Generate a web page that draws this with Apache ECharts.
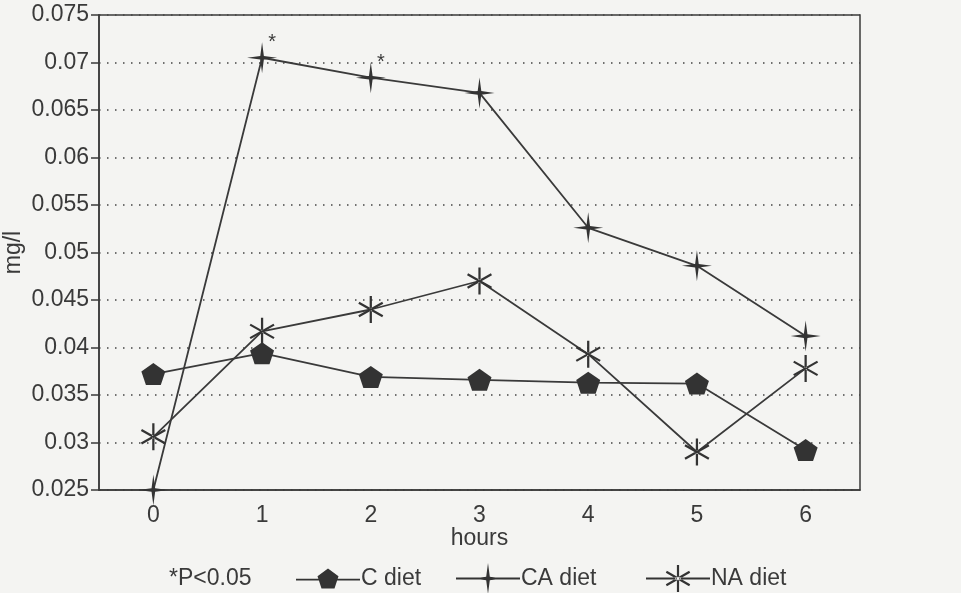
<!DOCTYPE html>
<html>
<head>
<meta charset="utf-8">
<script src="https://cdn.jsdelivr.net/npm/echarts@6/dist/echarts.min.js"></script>
<style>
html,body{margin:0;padding:0;background:#f4f4f2;}
#main{width:961px;height:593px;}
</style>
</head>
<body>
<div id="main"></div>
<script>
var hours = ['0','1','2','3','4','5','6'];
var cDiet = [0.0372, 0.0394, 0.0369, 0.0366, 0.0363, 0.0362, 0.0292];
var caDiet = [0.0250, 0.0705, 0.0684, 0.0668, 0.0526, 0.0486, 0.0412];
var naDiet = [0.0306, 0.0417, 0.0440, 0.0470, 0.0393, 0.0290, 0.0378];
var caSignificant = [false, true, true, false, false, false, false];
var seriesNames = ['C diet', 'CA diet', 'NA diet'];

var ink = '#3a3a3a';
var pentagonShape = 'M0,-11 L10.5,-3.4 L6.5,8.9 L-6.5,8.9 L-10.5,-3.4 Z';
var star4Shape = 'M0,-15.5 L1.8,-1.8 L15,0 L1.8,1.8 L0,15.5 L-1.8,1.8 L-15,0 L-1.8,-1.8 Z';
var asterShape = 'M-1.1,-13.5 L1.1,-13.5 L1.1,13.5 L-1.1,13.5 Z ' +
  'M11.1,7.7 L12.2,5.8 L-11.1,-7.7 L-12.2,-5.8 Z ' +
  'M-12.2,5.8 L-11.1,7.7 L12.2,-5.8 L11.1,-7.7 Z';
var legendLine = 'M-32,-0.9 L32,-0.9 L32,0.9 L-32,0.9 Z ';
var shapes = [pentagonShape, star4Shape, asterShape];
var legendLefts = [296, 456, 646];
var legendTops = [567, 563, 565];

var caData = caDiet.map(function(v, i){
  if (caSignificant[i]) {
    return {value: v, label: {show: true, formatter: '*', position: 'inside', offset: [10, -15], fontSize: 20, color: ink, fontFamily: 'Liberation Sans'}};
  }
  return v;
});

var fs = 23;
var legends = seriesNames.map(function(n, i){
  return {
    left: legendLefts[i], top: legendTops[i],
    itemWidth: 64, itemHeight: 31, padding: 0,
    textStyle: {fontSize: fs, color: ink, fontFamily: 'Liberation Sans', padding: [0,0,0,-4]},
    data: [{name: n, icon: 'path://' + legendLine + shapes[i]}]
  };
});

var chart = echarts.init(document.getElementById('main'));
chart.setOption({
  backgroundColor: '#f4f4f2',
  animation: false,
  textStyle: {fontFamily: 'Liberation Sans', color: ink},
  grid: {left: 99, right: 101, top: 15, bottom: 103, outerBoundsMode: 'none', containLabel: false,
         show: true, borderColor: ink, borderWidth: 1.5, backgroundColor: 'transparent'},
  legend: legends,
  graphic: [{
    type: 'text', left: 169, top: 567,
    style: {text: '*P<0.05', fontSize: fs, fill: ink, fontFamily: 'Liberation Sans'}
  }],
  xAxis: {
    type: 'category', data: hours, boundaryGap: true,
    name: 'hours', nameLocation: 'middle', nameGap: 37, nameMoveOverlap: false,
    nameTextStyle: {fontSize: fs, color: ink},
    axisLine: {lineStyle: {color: ink, width: 1.5}},
    axisTick: {alignWithLabel: true, length: 8, lineStyle: {color: ink, width: 1.5}},
    axisLabel: {fontSize: fs, color: ink, margin: 14},
    splitLine: {show: false}
  },
  yAxis: {
    type: 'value', min: 0.025, max: 0.075, interval: 0.005,
    name: 'mg/l', nameLocation: 'middle', nameGap: 74, nameMoveOverlap: false,
    nameTextStyle: {fontSize: fs, color: ink},
    axisLine: {show: true, lineStyle: {color: ink, width: 1.5}},
    axisTick: {show: true, length: 8, lineStyle: {color: ink, width: 1.5}},
    axisLabel: {fontSize: fs, color: ink, margin: 10, formatter: function(v){ return String(+v.toFixed(3)); }},
    splitLine: {show: true, lineStyle: {color: '#444', width: 1.5, type: [1.5, 6.5]}}
  },
  series: [
    {name: seriesNames[0], type: 'line', data: cDiet, symbol: 'path://' + pentagonShape, symbolSize: [24, 22],
     lineStyle: {color: ink, width: 1.8}, itemStyle: {color: '#333'}},
    {name: seriesNames[1], type: 'line', data: caData, symbol: 'path://' + star4Shape, symbolSize: [30, 31],
     lineStyle: {color: ink, width: 1.8}, itemStyle: {color: '#333'}},
    {name: seriesNames[2], type: 'line', data: naDiet, symbol: 'path://' + asterShape, symbolSize: [25, 27],
     lineStyle: {color: ink, width: 1.8}, itemStyle: {color: '#333'}}
  ]
});
</script>
</body>
</html>
